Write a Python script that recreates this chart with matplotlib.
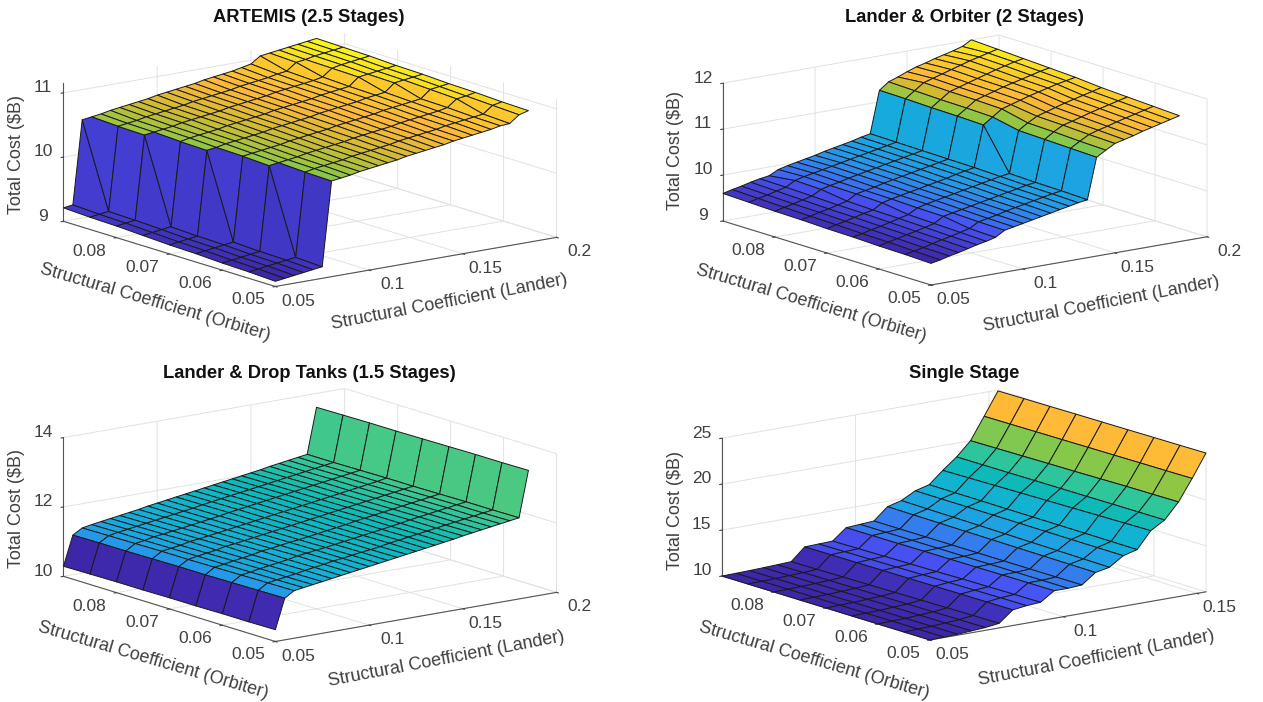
import matplotlib
matplotlib.use("Agg")
from matplotlib import pyplot as plt
from matplotlib.colors import LinearSegmentedColormap, Normalize
import numpy as np

plt.rcParams["font.family"] = ["Liberation Sans", "DejaVu Sans"]

orbiter = [0.05, 0.055, 0.06, 0.065, 0.07, 0.075, 0.08, 0.085, 0.09]
lander_long = [0.05, 0.055, 0.06, 0.065, 0.07, 0.075, 0.08, 0.085, 0.09, 0.095, 0.1, 0.105, 0.11, 0.115,
               0.12, 0.125, 0.13, 0.135, 0.14, 0.145, 0.15, 0.155, 0.16, 0.165, 0.17, 0.175, 0.18, 0.185]
lander_short = [0.05, 0.0552, 0.0603, 0.0655, 0.0707, 0.0759, 0.081, 0.0862, 0.0914, 0.0965, 0.1017,
                0.1069, 0.112, 0.1172, 0.1224, 0.1276, 0.1327, 0.1379, 0.1431, 0.1482, 0.1534]

cost_artemis = [
    [9.08, 9.10, 9.12, 9.14, 9.16, 9.18, 10.49, 10.51, 10.53, 10.56, 10.58, 10.60, 10.62, 10.64, 10.67, 10.69, 10.71, 10.73, 10.75, 10.78, 10.80, 10.82, 10.84, 10.86, 10.89, 10.90, 11.01, 11.05],
    [9.10, 9.12, 9.14, 9.16, 9.18, 9.20, 10.50, 10.53, 10.55, 10.57, 10.59, 10.62, 10.64, 10.66, 10.68, 10.70, 10.73, 10.75, 10.77, 10.79, 10.81, 10.84, 10.86, 10.88, 10.90, 10.92, 11.03, 11.06],
    [9.11, 9.13, 9.15, 9.17, 9.19, 10.50, 10.52, 10.54, 10.56, 10.59, 10.61, 10.63, 10.65, 10.67, 10.70, 10.72, 10.74, 10.76, 10.78, 10.81, 10.83, 10.85, 10.87, 10.89, 10.92, 11.03, 11.05, 11.08],
    [9.13, 9.15, 9.17, 9.19, 9.21, 10.52, 10.54, 10.56, 10.58, 10.60, 10.63, 10.65, 10.67, 10.69, 10.71, 10.74, 10.76, 10.78, 10.80, 10.82, 10.85, 10.87, 10.89, 10.91, 10.93, 11.05, 11.07, 11.09],
    [9.14, 9.16, 9.18, 9.20, 10.51, 10.53, 10.56, 10.58, 10.60, 10.62, 10.64, 10.67, 10.69, 10.71, 10.73, 10.75, 10.78, 10.80, 10.82, 10.84, 10.86, 10.89, 10.91, 10.93, 11.05, 11.07, 11.09, 11.11],
    [9.16, 9.18, 9.20, 9.22, 10.52, 10.55, 10.57, 10.59, 10.61, 10.64, 10.66, 10.68, 10.70, 10.72, 10.75, 10.77, 10.79, 10.81, 10.83, 10.86, 10.88, 10.90, 10.92, 11.04, 11.06, 11.08, 11.10, 11.12],
    [9.18, 9.20, 9.22, 10.52, 10.54, 10.56, 10.58, 10.61, 10.63, 10.65, 10.67, 10.69, 10.72, 10.74, 10.76, 10.78, 10.80, 10.83, 10.85, 10.87, 10.89, 10.91, 10.94, 11.05, 11.08, 11.10, 11.12, 11.14],
    [9.19, 9.21, 9.23, 10.53, 10.55, 10.57, 10.60, 10.62, 10.64, 10.66, 10.68, 10.71, 10.73, 10.75, 10.77, 10.79, 10.82, 10.84, 10.86, 10.88, 10.91, 10.93, 11.04, 11.06, 11.09, 11.11, 11.13, 11.15],
    [9.21, 9.23, 10.53, 10.55, 10.57, 10.60, 10.62, 10.64, 10.66, 10.68, 10.71, 10.73, 10.75, 10.77, 10.79, 10.82, 10.84, 10.86, 10.88, 10.91, 10.94, 11.04, 11.06, 11.08, 11.10, 11.12, 11.14, 11.16],
]
cost_lander_orbiter = [
    [9.47, 9.51, 9.56, 9.60, 9.65, 9.70, 9.74, 9.79, 9.91, 9.95, 9.99, 10.03, 10.07, 10.11, 10.15, 10.19, 10.23, 10.26, 11.15, 11.27, 11.38, 11.43, 11.48, 11.54, 11.59, 11.64, 11.69, 11.74],
    [9.49, 9.53, 9.57, 9.62, 9.67, 9.71, 9.76, 9.81, 9.92, 9.96, 10.00, 10.05, 10.09, 10.13, 10.17, 10.21, 10.25, 10.28, 11.17, 11.29, 11.40, 11.46, 11.51, 11.57, 11.62, 11.67, 11.72, 11.77],
    [9.50, 9.55, 9.59, 9.64, 9.68, 9.73, 9.78, 9.90, 9.94, 9.98, 10.02, 10.06, 10.10, 10.14, 10.18, 10.22, 10.26, 10.29, 11.19, 11.32, 11.43, 11.48, 11.54, 11.60, 11.65, 11.70, 11.75, 11.80],
    [9.52, 9.56, 9.61, 9.65, 9.70, 9.75, 9.80, 9.91, 9.96, 10.00, 10.04, 10.08, 10.12, 10.16, 10.20, 10.24, 10.28, 10.31, 11.21, 11.34, 11.45, 11.51, 11.57, 11.63, 11.68, 11.73, 11.78, 11.83],
    [9.53, 9.58, 9.62, 9.67, 9.72, 9.76, 9.88, 9.93, 9.97, 10.01, 10.05, 10.09, 10.13, 10.17, 10.22, 10.26, 10.30, 11.19, 11.33, 11.47, 11.53, 11.59, 11.65, 11.70, 11.75, 11.80, 11.84, 11.88],
    [9.55, 9.59, 9.64, 9.68, 9.73, 9.78, 9.90, 9.94, 9.98, 10.03, 10.07, 10.11, 10.15, 10.19, 10.23, 10.27, 10.31, 11.21, 11.35, 11.49, 11.55, 11.61, 11.67, 11.72, 11.77, 11.82, 11.87, 11.91],
    [9.56, 9.61, 9.65, 9.70, 9.75, 9.86, 9.91, 9.95, 10.00, 10.04, 10.08, 10.12, 10.16, 10.20, 10.24, 10.28, 10.32, 11.22, 11.36, 11.50, 11.56, 11.62, 11.68, 11.74, 11.80, 11.85, 11.90, 11.94],
    [9.58, 9.63, 9.67, 9.72, 9.77, 9.88, 9.93, 9.97, 10.01, 10.05, 10.09, 10.13, 10.17, 10.21, 10.25, 10.29, 10.33, 11.24, 11.38, 11.52, 11.58, 11.64, 11.70, 11.76, 11.82, 11.87, 11.92, 11.97],
    [9.60, 9.65, 9.69, 9.74, 9.78, 9.81, 9.91, 9.96, 10.00, 10.04, 10.08, 10.13, 10.17, 10.21, 10.25, 10.30, 10.34, 11.25, 11.40, 11.47, 11.55, 11.62, 11.67, 11.73, 11.78, 11.83, 11.89, 12.00],
]
cost_drop_tanks = [
    [10.34, 11.20, 11.37, 11.41, 11.45, 11.49, 11.53, 11.57, 11.61, 11.65, 11.69, 11.73, 11.77, 11.81, 11.85, 11.89, 11.93, 11.97, 12.01, 12.05, 12.10, 12.14, 12.18, 12.22, 12.26, 12.30, 12.34, 13.66],
    [10.33, 11.19, 11.36, 11.40, 11.44, 11.48, 11.53, 11.57, 11.61, 11.66, 11.69, 11.73, 11.77, 11.80, 11.84, 11.89, 11.93, 11.97, 12.01, 12.05, 12.09, 12.13, 12.17, 12.21, 12.25, 12.29, 12.33, 13.65],
    [10.33, 11.18, 11.35, 11.39, 11.44, 11.48, 11.52, 11.56, 11.62, 11.65, 11.69, 11.72, 11.76, 11.80, 11.84, 11.88, 11.92, 11.96, 12.00, 12.04, 12.09, 12.13, 12.17, 12.21, 12.25, 12.29, 12.33, 13.65],
    [10.32, 11.17, 11.34, 11.38, 11.43, 11.47, 11.51, 11.57, 11.60, 11.64, 11.68, 11.71, 11.75, 11.79, 11.83, 11.87, 11.91, 11.96, 12.00, 12.04, 12.08, 12.12, 12.16, 12.20, 12.24, 12.28, 12.32, 13.64],
    [10.32, 11.17, 11.33, 11.38, 11.42, 11.46, 11.52, 11.55, 11.59, 11.63, 11.67, 11.71, 11.75, 11.79, 11.83, 11.87, 11.91, 11.95, 11.99, 12.03, 12.07, 12.11, 12.15, 12.19, 12.23, 12.27, 12.31, 13.63],
    [10.31, 11.16, 11.33, 11.37, 11.41, 11.47, 11.50, 11.54, 11.58, 11.62, 11.66, 11.70, 11.74, 11.78, 11.82, 11.86, 11.90, 11.94, 11.98, 12.02, 12.06, 12.10, 12.14, 12.18, 12.22, 12.26, 12.31, 13.62],
    [10.31, 11.15, 11.32, 11.36, 11.42, 11.45, 11.49, 11.53, 11.57, 11.61, 11.65, 11.69, 11.74, 11.78, 11.82, 11.86, 11.90, 11.94, 11.98, 12.02, 12.06, 12.10, 12.14, 12.18, 12.22, 12.26, 12.30, 13.62],
    [10.30, 11.15, 11.31, 11.36, 11.40, 11.44, 11.48, 11.52, 11.56, 11.60, 11.64, 11.68, 11.73, 11.77, 11.81, 11.85, 11.89, 11.93, 11.97, 12.01, 12.05, 12.09, 12.13, 12.17, 12.21, 12.25, 12.29, 13.61],
    [10.29, 11.14, 11.30, 11.35, 11.39, 11.43, 11.47, 11.51, 11.55, 11.60, 11.64, 11.68, 11.72, 11.76, 11.80, 11.84, 11.88, 11.92, 11.96, 12.00, 12.04, 12.08, 12.13, 12.17, 12.21, 12.25, 12.29, 13.60],
]
cost_single = [
    [10.0, 10.05, 10.1, 10.2, 10.3, 10.5, 11.7, 11.9, 12.0, 13.0, 13.0, 13.1, 14.2, 14.5, 15.5, 15.9, 17.7, 18.6, 20.3, 22.6, 25.1],
    [10.0, 10.05, 10.1, 10.19, 10.29, 10.47, 11.69, 11.88, 11.98, 12.99, 13.0, 13.1, 14.22, 14.54, 15.51, 15.91, 17.65, 18.59, 20.27, 22.57, 25.07],
    [10.0, 10.05, 10.09, 10.18, 10.27, 10.44, 11.68, 11.84, 11.95, 12.98, 13.0, 13.1, 14.25, 14.58, 15.52, 15.93, 17.6, 18.58, 20.25, 22.55, 25.05],
    [10.0, 10.04, 10.09, 10.17, 10.25, 10.41, 11.66, 11.81, 11.92, 12.96, 13.0, 13.1, 14.27, 14.61, 15.54, 15.94, 17.55, 18.56, 20.2, 22.52, 25.02],
    [10.0, 10.04, 10.08, 10.16, 10.24, 10.37, 11.65, 11.78, 11.86, 12.95, 13.0, 13.1, 14.3, 14.65, 15.55, 15.95, 17.5, 18.55, 20.15, 22.5, 25.0],
    [10.0, 10.04, 10.08, 10.15, 10.22, 10.34, 11.64, 11.74, 11.82, 12.94, 13.0, 13.1, 14.32, 14.69, 15.56, 15.96, 17.45, 18.54, 20.12, 22.47, 24.98],
    [10.0, 10.04, 10.08, 10.14, 10.21, 10.31, 11.62, 11.71, 11.78, 12.92, 13.0, 13.1, 14.35, 14.72, 15.58, 15.98, 17.4, 18.52, 20.08, 22.45, 24.95],
    [10.0, 10.03, 10.07, 10.13, 10.19, 10.28, 11.61, 11.68, 11.74, 12.91, 13.0, 13.1, 14.37, 14.76, 15.59, 15.99, 17.35, 18.51, 20.04, 22.42, 24.93],
    [10.0, 10.03, 10.07, 10.12, 10.18, 10.25, 11.6, 11.65, 11.7, 12.9, 13.0, 13.1, 14.4, 14.8, 15.6, 16.0, 17.3, 18.5, 20.0, 22.4, 24.9],
]

orbiter_ticks = [0.05, 0.06, 0.07, 0.08]
orbiter_labels = ["0.05", "0.06", "0.07", "0.08"]

parula = LinearSegmentedColormap.from_list("parula", [
    (0.0, (0.2422, 0.1504, 0.6603)), (0.125, (0.2810, 0.3228, 0.9579)), (0.25, (0.1540, 0.5902, 0.9218)),
    (0.375, (0.0689, 0.6948, 0.8394)), (0.5, (0.05, 0.73, 0.72)), (0.575, (0.2, 0.78, 0.6)),
    (0.625, (0.35, 0.79, 0.45)), (0.68, (0.55, 0.78, 0.27)), (0.75, (0.82, 0.73, 0.2)),
    (0.82, (1.0, 0.72, 0.22)), (0.92, (0.98, 0.82, 0.15)), (1.0, (0.9769, 0.9839, 0.0805))])

FIG_W, FIG_H = 1263, 702
AX_SIZE = 640
TEXT = "#404040"


def px_text(xy, s, **kw):
    fig.text(xy[0] / FIG_W, 1 - xy[1] / FIG_H, s, ha="center", va="center", rotation_mode="anchor", **kw)


def draw_panel(center, title, title_xy, lander, cost, x_ticks, x_labels, z_ticks, z_lim, x_lim, zoom, z_box,
               x_label_xy, y_label_xy, z_label_xy):
    # square 3d axes placed so the projected box centre lands on center (pixels)
    left = center[0] - 0.5135 * AX_SIZE
    bottom = FIG_H - center[1] - 0.5135 * AX_SIZE
    ax = fig.add_axes([left / FIG_W, bottom / FIG_H, AX_SIZE / FIG_W, AX_SIZE / FIG_H],
                      projection="3d", computed_zorder=False)
    ax.patch.set_alpha(0)
    ax.set_proj_type("ortho")
    ax.view_init(elev=13.4, azim=-127)
    ax.set_box_aspect((1, 1, z_box), zoom=zoom * 400 / AX_SIZE)

    X, Y = np.meshgrid(lander, orbiter)
    Z = np.array(cost)
    norm = Normalize(Z.min(), Z.max())
    # flat shading from the first corner of each cell, like matlab surf
    colors = parula(norm(Z[:-1, :-1]))
    ax.plot_surface(X, Y, Z, rstride=1, cstride=1, facecolors=colors, shade=False,
                    edgecolor="#1a1a1a", linewidth=0.7, antialiased=True)

    ax.set_xlim(*x_lim)
    ax.set_ylim(0.05, 0.09)
    ax.set_zlim(*z_lim)
    ax.set_xticks(x_ticks, x_labels)
    ax.set_yticks(orbiter_ticks, orbiter_labels)
    ax.set_zticks(z_ticks)
    ax.zaxis.set_ticks_position("upper")
    ax.tick_params(labelsize=12.5, colors=TEXT)
    ax.tick_params(axis="x", pad=18)
    ax.tick_params(axis="y", pad=15)
    ax.tick_params(axis="z", pad=2)
    for lab in ax.xaxis.get_ticklabels():
        lab.set_verticalalignment("bottom")
    for lab in ax.yaxis.get_ticklabels() + ax.zaxis.get_ticklabels():
        lab.set_verticalalignment("baseline")

    for axis in [ax.xaxis, ax.yaxis, ax.zaxis]:
        axis.set_pane_color((1, 1, 1, 0))
        axis.pane.set_edgecolor("#dcdcdc")
        axis.line.set_color("#555555")
        axis.line.set_linewidth(0.8)
        axis._axinfo["grid"]["color"] = "#e2e2e2"
        axis._axinfo["grid"]["linewidth"] = 0.7
        axis._axinfo["tick"]["inward_factor"] = 0.1
        axis._axinfo["tick"]["outward_factor"] = 0.0
        axis._axinfo["tick"]["color"] = "#555555"

    px_text(title_xy, title, fontsize=13.2, fontweight="bold", color="#111111")
    px_text(x_label_xy, "Structural Coefficient (Lander)", fontsize=13, color=TEXT, rotation=10.8)
    px_text(y_label_xy, "Structural Coefficient (Orbiter)", fontsize=13, color=TEXT, rotation=-16.3)
    px_text(z_label_xy, "Total Cost ($B)", fontsize=13, color=TEXT, rotation=90)


fig = plt.figure(figsize=(FIG_W / 100, FIG_H / 100), dpi=100)

draw_panel((310, 160), "ARTEMIS (2.5 Stages)", (309, 17), lander_long, cost_artemis,
           [0.05, 0.1, 0.15, 0.2], ["0.05", "0.1", "0.15", "0.2"], [9, 10, 11], (9, 11.16), (0.05, 0.2), 1.257, 0.405,
           (449, 302), (155, 302), (17, 154))
draw_panel((965, 160), "Lander & Orbiter (2 Stages)", (964, 17), lander_long, cost_lander_orbiter,
           [0.05, 0.1, 0.15, 0.2], ["0.05", "0.1", "0.15", "0.2"], [9, 10, 11, 12], (9, 12), (0.05, 0.2), 1.235, 0.41,
           (1101, 304), (811, 303), (675, 151))
draw_panel((310, 515), "Lander & Drop Tanks (1.5 Stages)", (309, 374), lander_long, cost_drop_tanks,
           [0.05, 0.1, 0.15, 0.2], ["0.05", "0.1", "0.15", "0.2"], [10, 12, 14], (10, 14), (0.05, 0.2), 1.257, 0.405,
           (446, 659), (153, 660), (17, 509))
draw_panel((964, 515), "Single Stage", (964, 374), lander_short, cost_single,
           [0.05, 0.1, 0.15], ["0.05", "0.1", "0.15"], [10, 15, 20, 25], (10, 25), (0.05, 0.1534), 1.235, 0.41,
           (1096, 658), (814, 660), (675, 510))

fig.savefig("out.png", dpi=100)
